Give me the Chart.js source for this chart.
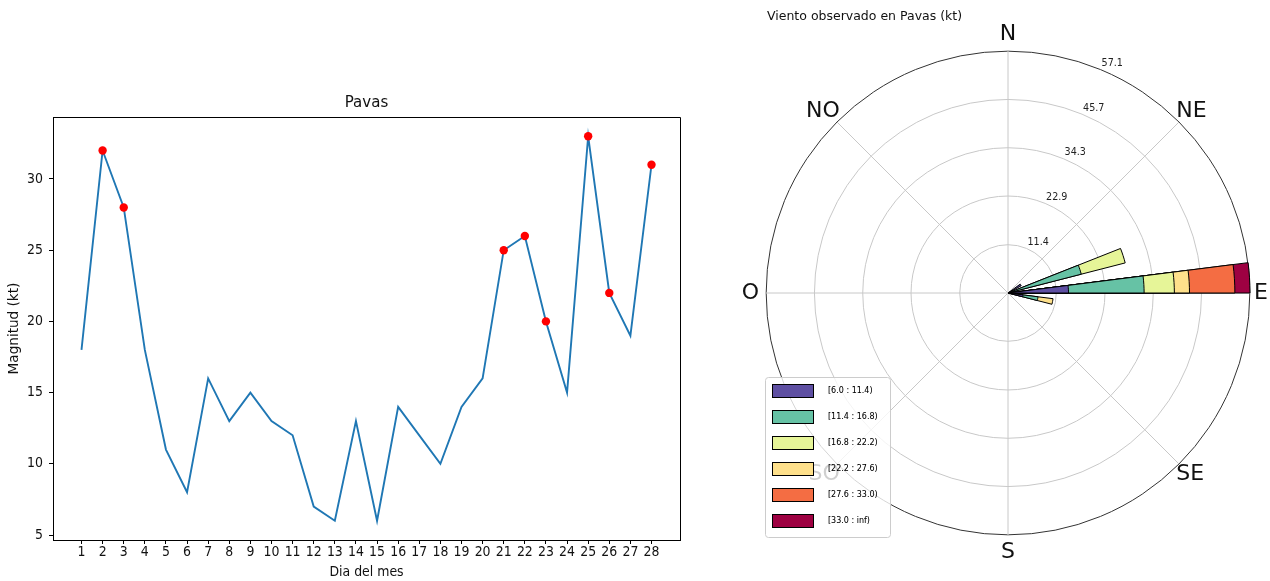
<!DOCTYPE html>
<html lang="es">
<head>
<meta charset="utf-8">
<title>Viento en Pavas</title>
<script src="https://cdn.jsdelivr.net/npm/chart.js@4.4.1/dist/chart.umd.min.js"></script>
<style>
  html, body { margin: 0; padding: 0; width: 1270px; height: 581px; overflow: hidden; background: #fff; }
  #cSerie { position: absolute; left: 0; top: 0; }
  #cRosa { position: absolute; left: 725px; top: 0; }
</style>
</head>
<body>
<canvas id="cSerie" width="700" height="581"></canvas>
<canvas id="cRosa" width="560" height="581"></canvas>
<script>
// ---- Serie diaria: magnitud del viento en Pavas (kt) ----
const dias = [1, 2, 3, 4, 5, 6, 7, 8, 9, 10, 11, 12, 13, 14, 15, 16, 17, 18, 19, 20, 21, 22, 23, 24, 25, 26, 27, 28];
const magnitud = [18, 32, 28, 18, 11, 8, 16, 13, 15, 13, 12, 7, 6, 13, 6, 14, 12, 10, 14, 16, 25, 26, 20, 15, 33, 22, 19, 31];
const ticksMagnitud = [5, 10, 15, 20, 25, 30];
const umbralAlerta = 20;   // días marcados en rojo

// ---- Rosa de vientos: días por sector y rango de velocidad ----
const rumbos = ['N', 'NE', 'E', 'SE', 'S', 'SO', 'O', 'NO'];
const direcciones = [57.6, 72.0, 86.4, 100.8];   // centro de cada sector (grados desde el N)
const anchoSector = 7.2;                           // grados
const rangos = ['[6.0 : 11.4)', '[11.4 : 16.8)', '[16.8 : 22.2)', '[22.2 : 27.6)', '[27.6 : 33.0)', '[33.0 : inf)'];
const coloresRango = ['#5e4fa2', '#66c2a5', '#e6f598', '#fee08b', '#f46d43', '#9e0142'];
const diasRango1 = [1, 0, 4, 1];
const diasRango2 = [0, 5, 5, 1];
const diasRango3 = [0, 3, 2, 0];
const diasRango4 = [0, 0, 1, 1];
const diasRango5 = [0, 0, 3, 0];
const diasRango6 = [0, 0, 1, 0];
const ticksRosa = [11.4, 22.9, 34.3, 45.7, 57.1];

const conteos = [diasRango1, diasRango2, diasRango3, diasRango4, diasRango5, diasRango6];
const totalDias = magnitud.length;
const porcentaje = c => c * 100 / totalDias;

Chart.defaults.font.family = "'DejaVu Sans', sans-serif";
const fuenteSerie = "'Liberation Sans Narrow', 'DejaVu Sans Condensed', 'DejaVu Sans', sans-serif";

// ---------- Gráfico de línea ----------
const marcoEjes = {
  id: 'marcoEjes',
  afterLayout(chart) {
    // título centrado sobre el área de trazado
    const tb = chart.titleBlock;
    tb.left = chart.chartArea.left;
    tb.right = chart.chartArea.right;
  },
  afterDraw(chart) {
    const { left, top, right, bottom } = chart.chartArea;
    const al = p => Math.round(p - 0.5) + 0.5;
    const ctx = chart.ctx;
    ctx.save();
    ctx.strokeStyle = '#000';
    ctx.lineWidth = 1;
    ctx.beginPath();
    ctx.moveTo(al(left), al(top));
    ctx.lineTo(al(right), al(top));
    ctx.lineTo(al(right), al(bottom));
    ctx.stroke();
    ctx.restore();
  }
};

const puntosSerie = dias.map((d, i) => ({ x: d, y: magnitud[i] }));
const puntosAlerta = puntosSerie.filter(p => p.y >= umbralAlerta);
const fSerie = { family: fuenteSerie, size: 13.9 };

new Chart(document.getElementById('cSerie'), {
  type: 'line',
  data: {
    datasets: [
      {
        type: 'scatter', label: 'Alerta', data: puntosAlerta,
        backgroundColor: '#ff0000', borderColor: '#ff0000', pointRadius: 4.2, borderWidth: 0, order: 0
      },
      {
        label: 'Magnitud', data: puntosSerie,
        borderColor: '#1f77b4', borderWidth: 1.9, pointRadius: 0, tension: 0, fill: false, order: 1
      }
    ]
  },
  options: {
    responsive: false, animation: false, events: [],
    layout: { padding: { top: 93, right: 20, bottom: 0, left: 0 } },
    scales: {
      x: {
        type: 'linear', min: -0.35, max: 29.35,
        afterBuildTicks: s => { s.ticks = dias.map(v => ({ value: v })); },
        afterFit: s => { s.height = 41; },
        ticks: { font: fSerie, color: '#111', padding: 0, maxRotation: 0, autoSkip: false, callback: v => String(v) },
        grid: { drawOnChartArea: false, drawTicks: true, tickLength: 4, color: '#000', lineWidth: 1 },
        border: { display: true, color: '#000', width: 1 },
        title: { display: true, text: 'Dia del mes', font: fSerie, color: '#111', padding: { top: 0, bottom: 0.7 } }
      },
      y: {
        type: 'linear', min: 4.65, max: 34.35,
        afterBuildTicks: s => { s.ticks = ticksMagnitud.map(v => ({ value: v })); },
        afterFit: s => { s.width = 53; },
        ticks: { font: fSerie, color: '#111', padding: 6, callback: v => String(v) },
        grid: { drawOnChartArea: false, drawTicks: true, tickLength: 4, color: '#000', lineWidth: 1 },
        border: { display: true, color: '#000', width: 1 },
        title: { display: true, text: 'Magnitud (kt)', font: { family: "'DejaVu Sans'", size: 13.6 }, color: '#111', padding: { top: 6.7, bottom: 0 } }
      }
    },
    plugins: {
      legend: { display: false },
      tooltip: { enabled: false },
      title: { display: true, text: 'Pavas', font: { family: fuenteSerie, size: 16.7, weight: 'normal' }, color: '#111', padding: { top: 0, bottom: 4 } }
    }
  },
  plugins: [marcoEjes]
});

// ---------- Rosa de vientos ----------
// Secuencia de arcos alrededor del círculo: huecos y sectores con datos
const arcos = [];
let cursorAng = 0;
direcciones.forEach((d, j) => {
  const ini = d - anchoSector / 2;
  if (ini > cursorAng) arcos.push({ angulo: ini - cursorAng, sector: -1 });
  arcos.push({ angulo: anchoSector, sector: j });
  cursorAng = ini + anchoSector;
});
if (cursorAng < 360) arcos.push({ angulo: 360 - cursorAng, sector: -1 });

// Cada rango se dibuja desde el centro hasta su valor acumulado
const datasetsRosa = conteos.map((serie, b) => ({
  label: rangos[b],
  data: arcos.map(a => {
    if (a.sector < 0 || serie[a.sector] === 0) return 0;
    let acum = 0;
    for (let k = 0; k <= b; k++) acum += conteos[k][a.sector];
    return porcentaje(acum);
  }),
  backgroundColor: coloresRango[b],
  borderColor: '#000',
  borderWidth: ctx => (ctx.raw > 0 ? 1 : 0),
  angle: ctx => arcos[ctx.dataIndex].angulo
}));

const totalesSector = direcciones.map((d, j) => conteos.reduce((s, c) => s + c[j], 0));
const maxRosa = porcentaje(Math.max(...totalesSector));

// Muestras de color de la leyenda
const muestras = coloresRango.map(c => {
  const cv = document.createElement('canvas');
  cv.width = 52; cv.height = 14;
  const g = cv.getContext('2d');
  g.fillStyle = c;
  g.fillRect(0, 0, 42, 14);
  g.strokeStyle = '#000';
  g.lineWidth = 1;
  g.strokeRect(0.5, 0.5, 41, 13);
  return cv;
});

function rectRedondeado(ctx, x, y, w, h, r) {
  ctx.beginPath();
  ctx.moveTo(x + r, y);
  ctx.lineTo(x + w - r, y);
  ctx.arcTo(x + w, y, x + w, y + r, r);
  ctx.lineTo(x + w, y + h - r);
  ctx.arcTo(x + w, y + h, x + w - r, y + h, r);
  ctx.lineTo(x + r, y + h);
  ctx.arcTo(x, y + h, x, y + h - r, r);
  ctx.lineTo(x, y + r);
  ctx.arcTo(x, y, x + r, y, r);
  ctx.closePath();
}

const detallesRosa = {
  id: 'detallesRosa',
  afterLayout(chart) {
    const lg = chart.legend;
    lg.left = 29; lg.top = 369; lg.right = lg.left + 150; lg.bottom = lg.top + 185;
    const tb = chart.titleBlock;
    const dx = 42 - tb.left;
    tb.left += dx; tb.right += dx;
  },
  afterDraw(chart) {
    const ctx = chart.ctx;
    const r = chart.scales.r;
    ctx.save();
    // etiquetas radiales a lo largo del rayo de 22.5°
    ctx.font = "9.6px 'DejaVu Sans'";
    ctx.fillStyle = '#222';
    ctx.textAlign = 'left';
    ctx.textBaseline = 'middle';
    ticksRosa.forEach(v => {
      const p = r.getPointPosition(0.5, r.getDistanceFromCenterForValue(v));
      ctx.fillText(v.toFixed(1), p.x + 1, p.y - 6);
    });
    // recuadro semitransparente de la leyenda
    const lg = chart.legend;
    rectRedondeado(ctx, lg.left + 11.5, lg.top + 8.5, 125, 160, 3);
    ctx.fillStyle = 'rgba(255,255,255,0.8)';
    ctx.fill();
    ctx.strokeStyle = '#cccccc';
    ctx.lineWidth = 1;
    ctx.stroke();
    ctx.restore();
    lg.draw();
  }
};

// separación de cada rótulo cardinal respecto al borde del círculo
const sepRumbos = [4, -4, 4, -4, 4, -4, 7, -4];

new Chart(document.getElementById('cRosa'), {
  type: 'polarArea',
  data: { labels: arcos.map(() => ''), datasets: datasetsRosa },
  options: {
    responsive: false, animation: false, events: [],
    layout: { padding: { top: 0, right: 0, bottom: 15.6, left: 0 } },
    scales: {
      r: {
        labels: rumbos,
        min: 0, max: maxRosa, startAngle: 0,
        afterBuildTicks: s => { s.ticks = [0, ...ticksRosa].map(v => ({ value: v })); },
        ticks: { display: false },
        grid: { circular: true, lineWidth: 1, color: ctx => (ctx.index === ticksRosa.length ? '#333' : '#c8c8c8') },
        angleLines: { display: true, color: '#c8c8c8', lineWidth: 1 },
        pointLabels: {
          display: true, font: { family: "'DejaVu Sans'", size: 22 }, color: '#111',
          padding: ctx => sepRumbos[ctx.index]
        }
      }
    },
    plugins: {
      tooltip: { enabled: false },
      title: {
        display: true, text: 'Viento observado en Pavas (kt)', align: 'start',
        font: { family: "'DejaVu Sans'", size: 12.5, weight: 'normal' }, color: '#111',
        padding: { top: 9.5, bottom: -3.9 }
      },
      legend: {
        position: 'chartArea', align: 'start',
        labels: {
          usePointStyle: true, pointStyleWidth: 52, padding: 18,
          font: { family: "'DejaVu Sans'", size: 8 }, color: '#111',
          generateLabels: chart => chart.data.datasets.map((ds, i) => ({
            text: ds.label, pointStyle: muestras[i], fillStyle: ds.backgroundColor,
            strokeStyle: '#000', lineWidth: 1, hidden: false, datasetIndex: i
          }))
        }
      }
    }
  },
  plugins: [detallesRosa]
});
</script>
</body>
</html>
